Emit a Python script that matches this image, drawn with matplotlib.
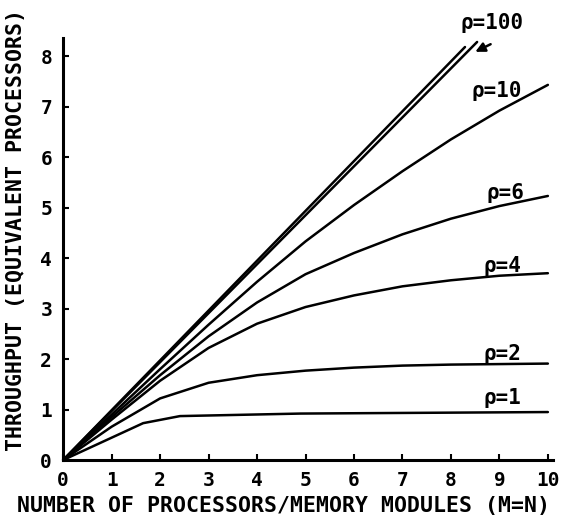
import matplotlib.pyplot as plt

# values
x_ideal = [0, 8.29]
y_ideal = [0, 8.18]

x_rho100 = [0, 8.54]
y_rho100 = [0, 8.28]

x_steps = [0, 1, 2, 3, 4, 5, 6, 7, 8, 9, 10]
y_rho10 = [0, 0.9, 1.8, 2.68, 3.53, 4.33, 5.05, 5.72, 6.35, 6.92, 7.43]
y_rho6 = [0, 0.85, 1.68, 2.45, 3.12, 3.68, 4.1, 4.47, 4.78, 5.03, 5.23]
y_rho4 = [0, 0.8, 1.57, 2.22, 2.7, 3.03, 3.26, 3.44, 3.56, 3.65, 3.70]
y_rho2 = [0, 0.66, 1.22, 1.53, 1.68, 1.77, 1.83, 1.87, 1.89, 1.9, 1.91]

x_rho1 = [0, 1.65, 2.41, 4.9, 10]
y_rho1 = [0, 0.73, 0.87, 0.92, 0.95]

curves = [(x_ideal, y_ideal), (x_rho100, y_rho100), (x_steps, y_rho10),
          (x_steps, y_rho6), (x_steps, y_rho4), (x_steps, y_rho2),
          (x_rho1, y_rho1)]

labels = ['ρ=100', 'ρ=10', 'ρ=6', 'ρ=4', 'ρ=2', 'ρ=1']
label_x = [8.2, 8.42, 8.73, 8.67, 8.67, 8.67]
label_y = [8.65, 7.31, 5.28, 3.84, 2.09, 1.22]

font = ['DejaVu Sans Mono']

fig = plt.figure(figsize=(5.64, 5.16), dpi=100)
ax = fig.add_axes([0.112, 0.1085, 0.868, 0.818])

for xs, ys in curves:
    ax.plot(xs, ys, color='black', lw=1.8, solid_capstyle='round', clip_on=False)

for txt, lx, ly in zip(labels, label_x, label_y):
    ax.text(lx, ly, txt, family=font, fontweight='bold', fontsize=15,
            va='center', ha='left', clip_on=False)

ax.annotate('', xy=(8.45, 8.06), xytext=(8.87, 8.26),
            arrowprops=dict(arrowstyle='-|>', color='black', lw=1.8,
                            mutation_scale=14), annotation_clip=False)

ax.set_xlim(0, 10.1)
ax.set_ylim(0, 8.36)
ax.set_xticks(range(0, 11))
ax.set_yticks(range(0, 9))
ax.spines['top'].set_visible(False)
ax.spines['right'].set_visible(False)
ax.spines['left'].set_linewidth(2.2)
ax.spines['bottom'].set_linewidth(2.2)
ax.tick_params(direction='in', length=4, width=1.5, labelsize=14)
ax.tick_params(axis='x', pad=8)
ax.tick_params(axis='y', pad=8)
for lab in ax.get_xticklabels() + ax.get_yticklabels():
    lab.set_family(font)
    lab.set_fontweight('bold')

ax.set_xlabel('NUMBER OF PROCESSORS/MEMORY MODULES (M=N)', family=font,
              fontweight='bold', fontsize=15.5)
ax.set_ylabel('THROUGHPUT (EQUIVALENT PROCESSORS)', family=font,
              fontweight='bold', fontsize=15.5)
ax.xaxis.set_label_coords(0.45, -0.085)
ax.yaxis.set_label_coords(-0.076, 0.545)

fig.savefig('out.png', dpi=100)
